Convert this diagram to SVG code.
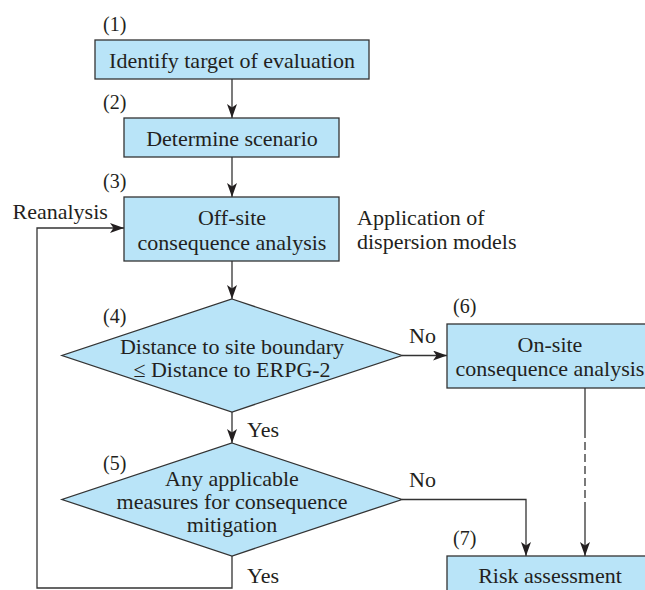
<svg xmlns="http://www.w3.org/2000/svg" width="645" height="590" viewBox="0 0 645 590">
<style>
.box{fill:#b9e4f8;stroke:#333;stroke-width:1.3}
.t{font-family:'Liberation Serif','Times New Roman',Times,'DejaVu Serif',serif;font-size:22px;fill:#231f20}
.c{text-anchor:middle}
.n{font-family:'Liberation Serif','Times New Roman',Times,'DejaVu Serif',serif;font-size:20px;fill:#231f20}
.ln{fill:none;stroke:#333;stroke-width:1.3}
</style>
<defs>
<marker id="ah" viewBox="0 0 14 10" refX="14" refY="5" markerWidth="14" markerHeight="10" markerUnits="userSpaceOnUse" orient="auto">
<path d="M0,0 L14,5 L0,10 L3.5,5 z" fill="#231f20"/>
</marker>
</defs>
<rect width="645" height="590" fill="#fff"/>
<g id="connectors">
<line class="ln" x1="232" y1="79" x2="232" y2="118" marker-end="url(#ah)"/>
<line class="ln" x1="232" y1="157" x2="232" y2="197" marker-end="url(#ah)"/>
<line class="ln" x1="232" y1="261" x2="232" y2="299" marker-end="url(#ah)"/>
<line class="ln" x1="232" y1="412" x2="232" y2="443" marker-end="url(#ah)"/>
<line class="ln" x1="402" y1="355.5" x2="447" y2="355.5" marker-end="url(#ah)"/>
<polyline class="ln" points="402,499.5 526,499.5 526,556" marker-end="url(#ah)"/>
<line class="ln" x1="585" y1="388" x2="585" y2="430"/>
<line class="ln" x1="585" y1="430" x2="585" y2="505" stroke-dasharray="8,4"/>
<line class="ln" x1="585" y1="505" x2="585" y2="556" marker-end="url(#ah)"/>
<polyline class="ln" points="232,556 232,588 37,588 37,228 124,228" marker-end="url(#ah)"/>
<text class="t" x="409" y="343">No</text>
<text class="t" x="409" y="487">No</text>
<text class="t" x="247" y="437">Yes</text>
<text class="t" x="247" y="583">Yes</text>
<text class="t" x="12.5" y="219">Reanalysis</text>
</g>
<g id="n1">
<text class="n" x="103" y="31">(1)</text>
<rect class="box" x="95" y="40" width="274" height="39"/>
<text class="t c" x="232" y="68">Identify target of evaluation</text>
</g>
<g id="n2">
<text class="n" x="103" y="109">(2)</text>
<rect class="box" x="124" y="118" width="215" height="39"/>
<text class="t c" x="232" y="146">Determine scenario</text>
</g>
<g id="n3">
<text class="n" x="103" y="188">(3)</text>
<rect class="box" x="124" y="197" width="215" height="64"/>
<text class="t c" x="232" y="225">Off-site</text>
<text class="t c" x="232" y="250">consequence analysis</text>
</g>
<g id="note">
<text class="t" x="357" y="225">Application of</text>
<text class="t" x="357" y="249">dispersion models</text>
</g>
<g id="n4">
<text class="n" x="103" y="323">(4)</text>
<polygon class="box" points="232,299 402,355.5 232,412 62,355.5"/>
<text class="t c" x="232" y="354">Distance to site boundary</text>
<text class="t c" x="232" y="377">≤ Distance to ERPG-2</text>
</g>
<g id="n5">
<text class="n" x="103" y="470">(5)</text>
<polygon class="box" points="232,443 402,499.5 232,556 62,499.5"/>
<text class="t c" x="232" y="486">Any applicable</text>
<text class="t c" x="232" y="509">measures for consequence</text>
<text class="t c" x="232" y="532">mitigation</text>
</g>
<g id="n6">
<text class="n" x="453" y="313">(6)</text>
<rect class="box" x="447" y="324" width="210" height="64"/>
<text class="t c" x="550" y="352">On-site</text>
<text class="t c" x="550" y="376">consequence analysis</text>
</g>
<g id="n7">
<text class="n" x="453" y="545">(7)</text>
<rect class="box" x="447" y="556" width="210" height="50"/>
<text class="t c" x="550" y="583">Risk assessment</text>
</g>
</svg>
